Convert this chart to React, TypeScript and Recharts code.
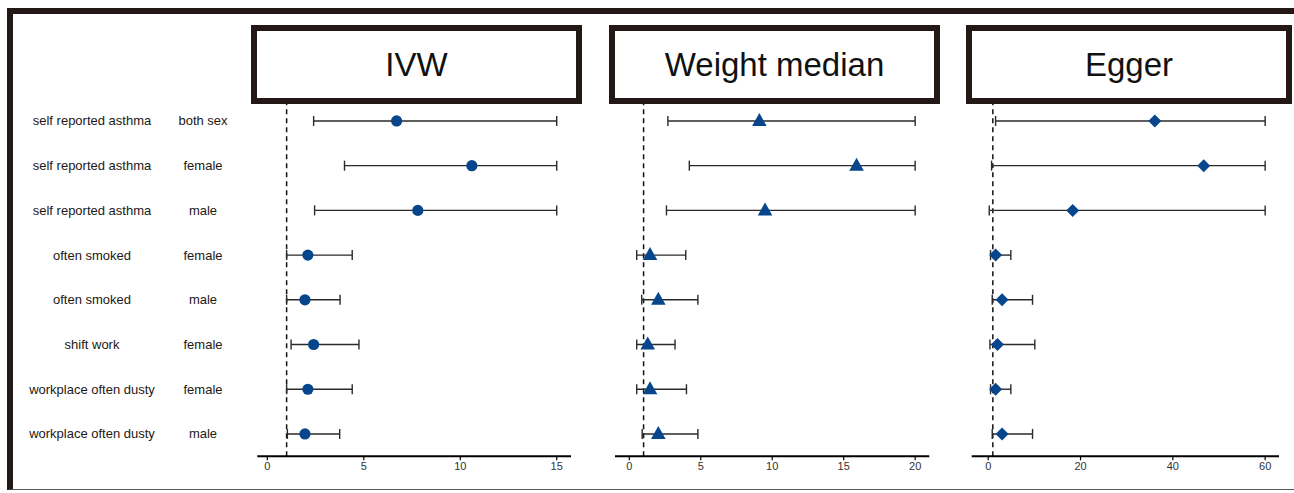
import React from "react";
import {
  ScatterChart, Scatter, XAxis, YAxis, ErrorBar, ReferenceLine,
} from "recharts";

// row labels (exposure, sex)
const exposures = [
  "self reported asthma", "self reported asthma", "self reported asthma",
  "often smoked", "often smoked", "shift work",
  "workplace often dusty", "workplace often dusty",
];
const sexes = ["both sex", "female", "male", "female", "male", "female", "female", "male"];

// IVW estimates and CI bounds
const ivwEst = [6.7, 10.6, 7.8, 2.1, 1.95, 2.4, 2.1, 1.95];
const ivwLow = [2.4, 4.0, 2.45, 1.0, 1.0, 1.23, 1.0, 1.04];
const ivwHigh = [15, 15, 15, 4.4, 3.77, 4.75, 4.4, 3.75];
const ivwTicks = [0, 5, 10, 15];

// weighted median
const wmEst = [9.1, 15.9, 9.5, 1.45, 2.03, 1.29, 1.45, 2.03];
const wmLow = [2.7, 4.2, 2.6, 0.52, 0.87, 0.52, 0.52, 0.9];
const wmHigh = [20, 20, 20, 3.95, 4.8, 3.2, 4.0, 4.8];
const wmTicks = [0, 5, 10, 15, 20];

// MR-Egger
const egEst = [36.1, 46.7, 18.3, 1.6, 3.0, 2.0, 1.6, 3.0];
const egLow = [1.6, 0.73, 0.22, 0.5, 0.87, 0.37, 0.5, 0.87];
const egHigh = [60, 60, 60, 4.9, 9.6, 10.1, 4.9, 9.6];
const egTicks = [0, 20, 40, 60];

const rows = [1, 2, 3, 4, 5, 6, 7, 8];

const BLUE = "#07468c";
const INK = "#231815";
const FONT = '"Liberation Sans", Arial, sans-serif';

function build(est: number[], low: number[], high: number[]) {
  return est.map((v, i) => ({ row: i + 1, est: v, err: [v - low[i], high[i] - v] }));
}

const circle = (p: any) => <circle cx={p.cx} cy={p.cy} r={5.6} fill={BLUE} />;
const triangle = (p: any) => (
  <polygon points={`${p.cx},${p.cy - 8} ${p.cx + 7.3},${p.cy + 5} ${p.cx - 7.3},${p.cy + 5}`} fill={BLUE} />
);
const diamond = (p: any) => (
  <polygon points={`${p.cx},${p.cy - 6.5} ${p.cx + 6.5},${p.cy} ${p.cx},${p.cy + 6.5} ${p.cx - 6.5},${p.cy}`} fill={BLUE} />
);

const RowTick = (props: any) => {
  const i = props.payload.value - 1;
  return (
    <g>
      <text x={92} y={props.y} textAnchor="middle" dominantBaseline="central"
        fontSize={13} fill={INK} fontFamily={FONT}>{exposures[i]}</text>
      <text x={203} y={props.y} textAnchor="middle" dominantBaseline="central"
        fontSize={13} fill={INK} fontFamily={FONT}>{sexes[i]}</text>
    </g>
  );
};

function Panel({
  left, width, margin, yWidth, domain, ticks, data, shape, labels,
}: {
  left: number; width: number; margin: { left: number; right: number };
  yWidth: number; domain: [number, number]; ticks: number[]; data: any[]; shape: any; labels?: boolean;
}) {
  return (
    <div style={{ position: "absolute", left, top: 0 }}>
      <ScatterChart width={width} height={493}
        margin={{ top: 98.6, bottom: 6.7, left: margin.left, right: margin.right }}>
        <XAxis type="number" dataKey="est" domain={domain} ticks={ticks} allowDataOverflow
          axisLine={{ stroke: "#000", strokeWidth: 2 }} tickLine={{ stroke: "#000", strokeWidth: 1.2 }}
          tickSize={4} height={30}
          tick={{ fontSize: 11, fill: "#333", fontFamily: FONT }} />
        <YAxis type="number" dataKey="row" domain={[0.5, 8.5]} ticks={rows} reversed
          hide={!labels} width={yWidth} axisLine={false} tickLine={false} interval={0}
          tick={labels ? <RowTick /> : false} />
        <ReferenceLine x={1} stroke="#111" strokeWidth={1.5} strokeDasharray="5 4" />
        <Scatter data={data} shape={shape} isAnimationActive={false}>
          <ErrorBar dataKey="err" direction="x" width={5} stroke="#2a2a2a" strokeWidth={1.4} />
        </Scatter>
      </ScatterChart>
    </div>
  );
}

const Header = ({ left, width, title }: { left: number; width: number; title: string }) => (
  <div style={{
    position: "absolute", left, top: 25, width, height: 79, boxSizing: "border-box",
    border: `6px solid ${INK}`, background: "#fff", display: "flex",
    alignItems: "center", justifyContent: "center",
    fontFamily: FONT, fontSize: 33, color: "#111",
  }}>{title}</div>
);

export default function App() {
  return (
    <div style={{ position: "absolute", left: 0, top: 0, width: 1294, height: 493, background: "#fff", overflow: "hidden" }}>
      <div style={{
        position: "absolute", left: 7, top: 8, width: 1300, height: 482, boxSizing: "border-box",
        borderLeft: `6px solid ${INK}`, borderTop: `6px solid ${INK}`, borderBottom: "1.5px solid #555",
      }} />
      <Panel left={0} width={590} margin={{ left: 0, right: 19 }} yWidth={257.3}
        domain={[-0.52, 15.74]} ticks={ivwTicks} data={build(ivwEst, ivwLow, ivwHigh)} shape={circle} labels />
      <Panel left={600} width={340} margin={{ left: 15, right: 10.7 }} yWidth={0}
        domain={[-1.0, 20.99]} ticks={wmTicks} data={build(wmEst, wmLow, wmHigh)} shape={triangle} />
      <Panel left={960} width={334} margin={{ left: 11.7, right: 15 }} yWidth={0}
        domain={[-3.58, 63.0]} ticks={egTicks} data={build(egEst, egLow, egHigh)} shape={diamond} />
      <Header left={251} width={331} title="IVW" />
      <Header left={609} width={331} title="Weight median" />
      <Header left={966} width={326} title="Egger" />
    </div>
  );
}
